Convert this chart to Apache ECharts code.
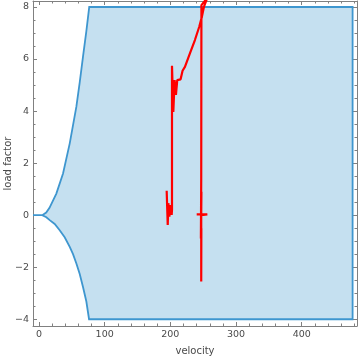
<!DOCTYPE html>
<html>
<head>
<meta charset="utf-8">
<script src="https://cdn.jsdelivr.net/npm/echarts@6/dist/echarts.min.js"></script>
<style>
  html, body { margin: 0; padding: 0; background: #ffffff; }
  #chart { width: 360px; height: 359px; }
</style>
</head>
<body>
<div id="chart"></div>
<script>
// ---- data ----
// flight envelope (closed outline, velocity / load factor)
const envelopeV = [-9.1, 5, 11, 16, 26.4, 36.6, 46.8, 56.9, 62, 67, 72, 76.5, 477.5, 477.5, 76.2, 72.1, 67, 62, 56.9, 51.8, 46.8, 39.1, 31.5, 23.9, 16.3, 11.2, 5, -9.1];
const envelopeN = [0, 0, 0.1, 0.28, 0.83, 1.6, 2.76, 4.17, 5.1, 6.09, 7.05, 8, 8, -4, -4, -3.32, -2.76, -2.26, -1.86, -1.5, -1.22, -0.85, -0.58, -0.34, -0.19, -0.08, 0, 0];

// measured trace
const traceV = [194.4, 196, 197, 198.5, 200.5, 202, 202.5, 202.5, 204.5, 206.5, 208.5, 210.5, 215.6, 218.6, 222.2, 229.8, 237.4, 244, 248.1, 251.1, 256.2, 247.3, 247, 246.5, 247.3, 247, 240.1, 256.3, 247, 247, 247.2];
const traceN = [0.94, -0.38, 0.46, -0.06, 0.39, 0.01, 0.2, 5.74, 3.97, 5.19, 4.62, 5.19, 5.22, 5.55, 5.70, 6.22, 6.73, 7.24, 7.63, 8.0, 8.35, 8.07, 1.4, -0.9, 0.9, 0.03, 0.03, 0.03, 0.0, -2.55, -0.5];

// ticks
const xMajorTicks = [0, 100, 200, 300, 400];
const xMinorTicks = [0, 20, 40, 60, 80, 100, 120, 140, 160, 180, 200, 220, 240, 260, 280, 300, 320, 340, 360, 380, 400, 420, 440, 460, 480];
const yMajorTicks = [-4, -2, 0, 2, 4, 6, 8];
const yMinorTicks = [-4, -3.5, -3, -2.5, -2, -1.5, -1, -0.5, 0, 0.5, 1, 1.5, 2, 2.5, 3, 3.5, 4, 4.5, 5, 5.5, 6, 6.5, 7, 7.5, 8];

const xName = 'velocity';
const yName = 'load factor';

// ---- chart ----
const X_MIN = -9.14, X_MAX = 484.2, Y_MIN = -4.26, Y_MAX = 8.23;
const frameColor = '#808080';
const labelColor = '#4a4a4a';
const font = 'DejaVu Sans';

function fmt(v) { return v < 0 ? '\u2212' + Math.abs(v) : String(v); }

function xAxisDef(pos, ticks, len, withLabels, withLine) {
  return {
    type: 'value', position: pos, min: X_MIN, max: X_MAX,
    axisLine: { show: withLine, onZero: false, lineStyle: { color: frameColor, width: 1 } },
    axisTick: { show: true, inside: true, length: len, customValues: ticks, lineStyle: { color: frameColor, width: 1 } },
    axisLabel: withLabels ? { show: true, customValues: xMajorTicks, formatter: fmt, color: labelColor, fontFamily: font, fontSize: 9.5, margin: 4 } : { show: false },
    splitLine: { show: false },
    name: (withLabels ? xName : ''), nameLocation: 'middle', nameGap: 20, nameMoveOverlap: false,
    nameTextStyle: { color: labelColor, fontFamily: font, fontSize: 10 }
  };
}
function yAxisDef(pos, ticks, len, withLabels, withLine) {
  return {
    type: 'value', position: pos, min: Y_MIN, max: Y_MAX,
    axisLine: { show: withLine, onZero: false, lineStyle: { color: frameColor, width: 1 } },
    axisTick: { show: true, inside: true, length: len, customValues: ticks, lineStyle: { color: frameColor, width: 1 } },
    axisLabel: withLabels ? { show: true, customValues: yMajorTicks, formatter: fmt, color: labelColor, fontFamily: font, fontSize: 9.5, margin: 4 } : { show: false },
    splitLine: { show: false },
    name: (withLabels ? yName : ''), nameLocation: 'middle', nameGap: 20, nameMoveOverlap: false,
    nameTextStyle: { color: labelColor, fontFamily: font, fontSize: 10 }
  };
}

const chart = echarts.init(document.getElementById('chart'), null, { renderer: 'canvas' });
chart.setOption({
  animation: false,
  backgroundColor: '#ffffff',
  grid: { left: 33, right: 3, top: 1, bottom: 33, containLabel: false, outerBoundsMode: 'none' },
  xAxis: [
    xAxisDef('bottom', xMajorTicks, 4, true, true),
    xAxisDef('bottom', xMinorTicks, 2.5, false, false),
    xAxisDef('top', xMajorTicks, 4, false, true),
    xAxisDef('top', xMinorTicks, 2.5, false, false)
  ],
  yAxis: [
    yAxisDef('left', yMajorTicks, 4, true, true),
    yAxisDef('left', yMinorTicks, 2.5, false, false),
    yAxisDef('right', yMajorTicks, 4, false, true),
    yAxisDef('right', yMinorTicks, 2.5, false, false)
  ],
  series: [
    {
      type: 'custom',
      xAxisIndex: 0, yAxisIndex: 0,
      clip: true,
      data: [[0, 0]],
      renderItem: function (params, api) {
        if (params.dataIndex !== 0) return null;
        const pts = envelopeV.map((v, i) => api.coord([v, envelopeN[i]]));
        return {
          type: 'polygon',
          shape: { points: pts },
          style: { fill: '#c5e0f0', stroke: '#3e96cf', lineWidth: 1.8, lineJoin: 'miter' }
        };
      },
      z: 1
    },
    {
      type: 'line',
      xAxisIndex: 0, yAxisIndex: 0,
      data: traceV.map((v, i) => [v, traceN[i]]),
      showSymbol: false,
      symbol: 'none',
      clip: true,
      lineStyle: { color: '#ff0000', width: 2.2 },
      z: 3
    }
  ]
});
</script>
</body>
</html>
